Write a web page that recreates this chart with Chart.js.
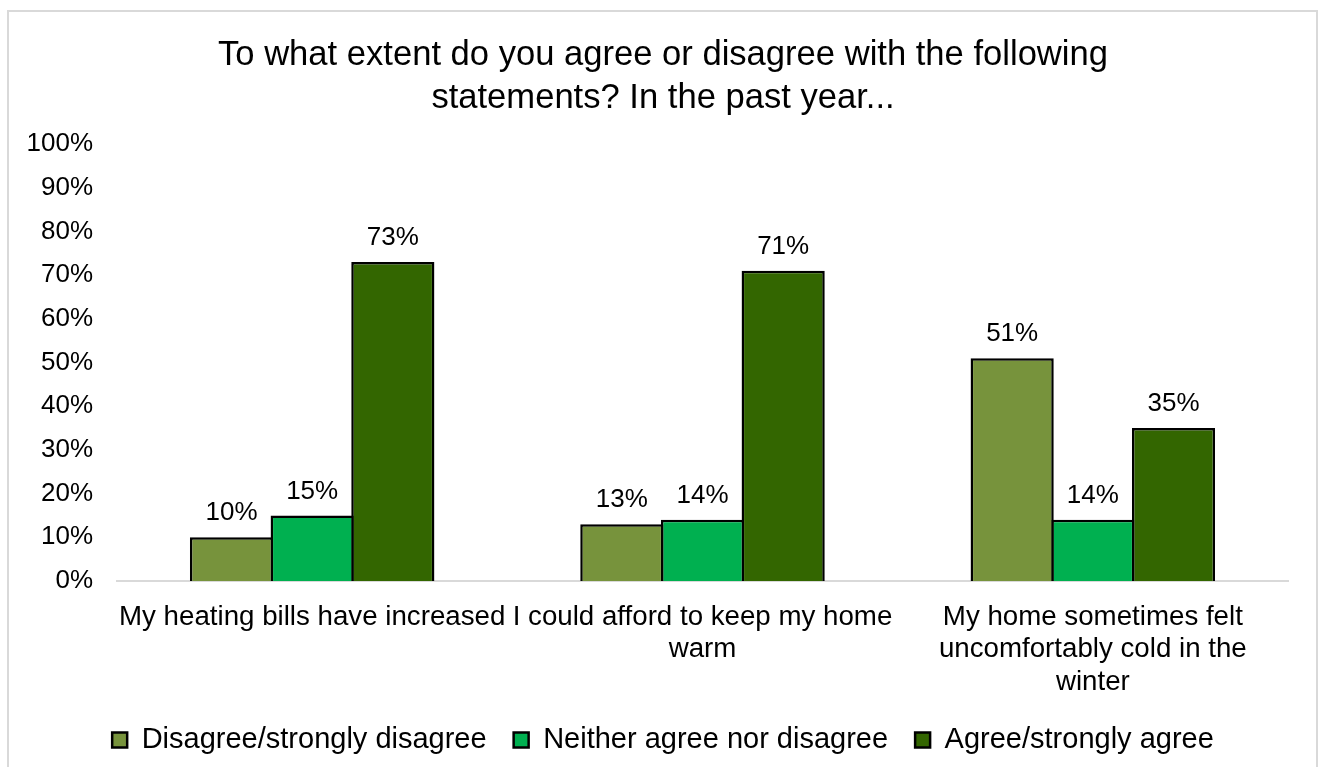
<!DOCTYPE html>
<html>
<head>
<meta charset="utf-8">
<title>Heating survey</title>
<script src="https://cdn.jsdelivr.net/npm/chart.js@4/dist/chart.umd.min.js"></script>
<style>
  html, body { margin: 0; padding: 0; background: #ffffff; }
  #wrap { position: relative; width: 1321px; height: 767px; overflow: hidden; }
  #frame {
    position: absolute; left: 7px; top: 10px; width: 1311px; height: 800px;
    border: 2px solid #d9d9d9; box-sizing: border-box;
  }
  #chart { position: absolute; left: 0; top: 0; }
</style>
</head>
<body>
<div id="wrap">
  <div id="frame"></div>
  <canvas id="chart" width="1321" height="767" style="width:1321px;height:767px"></canvas>
</div>
<script>
// Survey statements (x-axis categories, wrapped onto lines)
const categories = [
  ['My heating bills have increased'],
  ['I could afford to keep my home', 'warm'],
  ['My home sometimes felt', 'uncomfortably cold in the', 'winter']
];

// Response groups
const seriesNames = [
  'Disagree/strongly disagree',
  'Neither agree nor disagree',
  'Agree/strongly agree'
];

// Share of respondents (%) per statement
const disagreeValues = [10, 13, 51];
const neitherValues = [15, 14, 14];
const agreeValues = [73, 71, 35];

// Y-axis tick values (%)
const yTicks = [0, 10, 20, 30, 40, 50, 60, 70, 80, 90, 100];

const titleLines = [
  'To what extent do you agree or disagree with the following',
  'statements? In the past year...'
];

const FONT = '"Liberation Sans", Arial, Helvetica, sans-serif';
const colors = ['#77933C', '#00B050', '#336600'];

// Percent labels above each bar
const barValueLabels = {
  id: 'barValueLabels',
  afterDatasetsDraw(chart) {
    const ctx = chart.ctx;
    ctx.save();
    ctx.font = '26px ' + FONT;
    ctx.fillStyle = '#000000';
    ctx.textAlign = 'center';
    ctx.textBaseline = 'middle';
    chart.data.datasets.forEach((ds, i) => {
      chart.getDatasetMeta(i).data.forEach((bar, j) => {
        ctx.fillText(ds.data[j] + '%', bar.x, bar.y - 24);
      });
    });
    ctx.restore();
  }
};

const valueSets = [disagreeValues, neitherValues, agreeValues];

new Chart(document.getElementById('chart'), {
  type: 'bar',
  data: {
    labels: categories,
    datasets: seriesNames.map((name, i) => ({
      label: name,
      data: valueSets[i],
      backgroundColor: colors[i],
      borderColor: '#000000',
      borderWidth: 2.5,
      borderSkipped: 'start',
      inflateAmount: 0,
      categoryPercentage: 0.62,
      barPercentage: 1.031
    }))
  },
  options: {
    responsive: false,
    animation: false,
    devicePixelRatio: 1,
    layout: { padding: { left: 5, right: 0, top: 0, bottom: 2.5 } },
    plugins: {
      title: {
        display: true,
        text: titleLines,
        color: '#000000',
        font: { family: FONT, size: 34.6, weight: 'normal', lineHeight: 1.25 },
        padding: { top: 33.4, bottom: 24.1 }
      },
      legend: {
        display: true,
        position: 'bottom',
        labels: {
          color: '#000000',
          font: { family: FONT, size: 29 },
          boxWidth: 15,
          boxHeight: 15,
          padding: 27
        }
      },
      tooltip: { enabled: false }
    },
    scales: {
      x: {
        grid: { display: false, drawTicks: false },
        border: { display: true, color: '#d9d9d9', width: 2 },
        ticks: {
          color: '#000000',
          font: { family: FONT, size: 27.7, lineHeight: 1.175 },
          padding: 20,
          maxRotation: 0,
          autoSkip: false
        },
        afterFit(scale) { scale.height = 117.5; }
      },
      y: {
        min: 0,
        max: 100,
        grid: { display: false, drawTicks: false },
        border: { display: false },
        afterBuildTicks(scale) { scale.ticks = yTicks.map(v => ({ value: v })); },
        ticks: {
          color: '#000000',
          font: { family: FONT, size: 26 },
          padding: 24,
          callback: v => v + '%'
        },
        afterFit(scale) { scale.width = 112; }
      },
      // empty right-hand gutter between the plot and the frame
      yRight: {
        position: 'right',
        display: true,
        grid: { display: false, drawTicks: false },
        border: { display: false },
        ticks: { display: false },
        afterFit(scale) { scale.width = 33; }
      }
    }
  },
  plugins: [barValueLabels]
});
</script>
</body>
</html>
